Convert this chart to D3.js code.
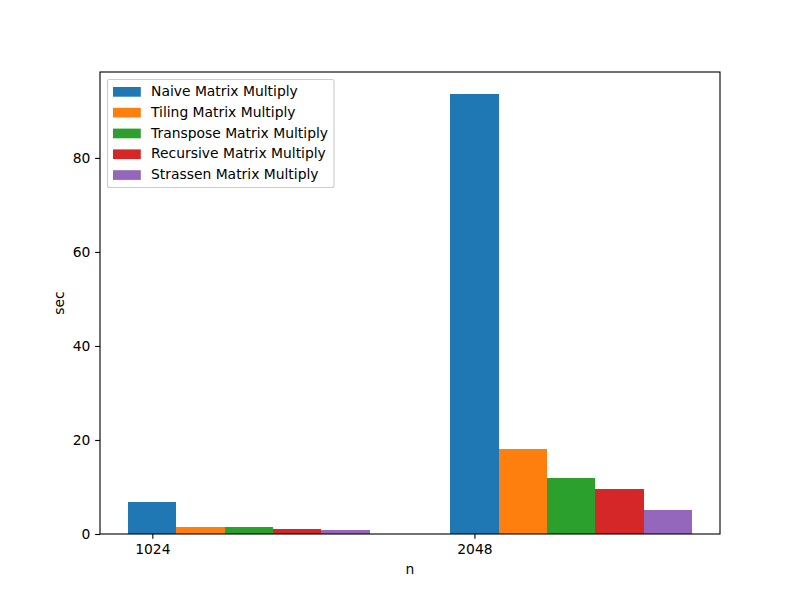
<!DOCTYPE html>
<html><head><meta charset="utf-8">
<script src="https://cdn.jsdelivr.net/npm/d3@7"></script>
<style>body{margin:0;background:#fff}text{font-family:"DejaVu Sans",sans-serif}</style>
</head><body>
<svg id="c" width="800" height="600"></svg>
<script>
const categories = ["1024", "2048"];
const seriesNames = ["Naive Matrix Multiply","Tiling Matrix Multiply","Transpose Matrix Multiply","Recursive Matrix Multiply","Strassen Matrix Multiply"];
const naive = [6.8, 93.6];
const tiling = [1.5, 18.1];
const transpose = [1.5, 11.9];
const recursive = [1.05, 9.6];
const strassen = [0.85, 5.1];
const yTicks = [0, 20, 40, 60, 80];
const colors = ["#1f77b4","#ff7f0e","#2ca02c","#d62728","#9467bd"];
const series = [naive, tiling, transpose, recursive, strassen];

const FS = "13.89px";
const svg = d3.select("#c");
const L = 100, R = 720, T = 72, B = 534;
const w = 0.15;
const x = d3.scaleLinear().domain([-0.1625, 1.7625]).range([L, R]);
const ymax = d3.max(series.flat()) * 1.05;
const y = d3.scaleLinear().domain([0, ymax]).range([B, T]);

series.forEach((vals, i) => {
  svg.append("g").selectAll("rect").data(vals).join("rect")
    .attr("x", (d, j) => x(j + i * w - w / 2))
    .attr("width", x(w) - x(0))
    .attr("y", d => y(d))
    .attr("height", d => y(0) - y(d))
    .attr("fill", colors[i])
    .attr("shape-rendering", "crispEdges");
});

const xa = svg.append("g").attr("transform", `translate(0,${B})`)
  .call(d3.axisBottom(x).tickValues([0, 1]).tickFormat((d, i) => categories[i]).tickSize(4.86).tickPadding(4.86));
const ya = svg.append("g").attr("transform", `translate(${L},0)`)
  .call(d3.axisLeft(y).tickValues(yTicks).tickSize(4.86).tickPadding(4.86));
[xa, ya].forEach(a => {
  a.select(".domain").remove();
  a.selectAll("text").attr("font-size", FS).attr("fill", "#000").attr("font-family", "DejaVu Sans");
  a.selectAll("line").attr("stroke", "#000").attr("stroke-width", 1.11);
});
svg.append("rect").attr("x", L).attr("y", T).attr("width", R - L).attr("height", B - T)
  .attr("fill", "none").attr("stroke", "#000").attr("stroke-width", 1.11);

svg.append("text").attr("x", (L + R) / 2).attr("y", 574).attr("text-anchor", "middle")
  .attr("font-size", FS).text("n");
svg.append("text").attr("transform", `translate(64,${(T + B) / 2}) rotate(-90)`).attr("text-anchor", "middle")
  .attr("font-size", FS).text("sec");

const lg = svg.append("g");
lg.append("rect").attr("x", 107.5).attr("y", 79.5).attr("width", 226.5).attr("height", 108).attr("rx", 2)
  .attr("fill", "#fff").attr("fill-opacity", 0.8).attr("stroke", "#ccc").attr("stroke-width", 1.11);
seriesNames.forEach((n, i) => {
  const cy = 91 + i * 20.8;
  lg.append("rect").attr("x", 113).attr("y", cy - 4).attr("width", 27.8).attr("height", 9.7).attr("fill", colors[i]);
  lg.append("text").attr("x", 151).attr("y", cy + 5).attr("font-size", FS).text(n);
});
</script>
</body></html>
